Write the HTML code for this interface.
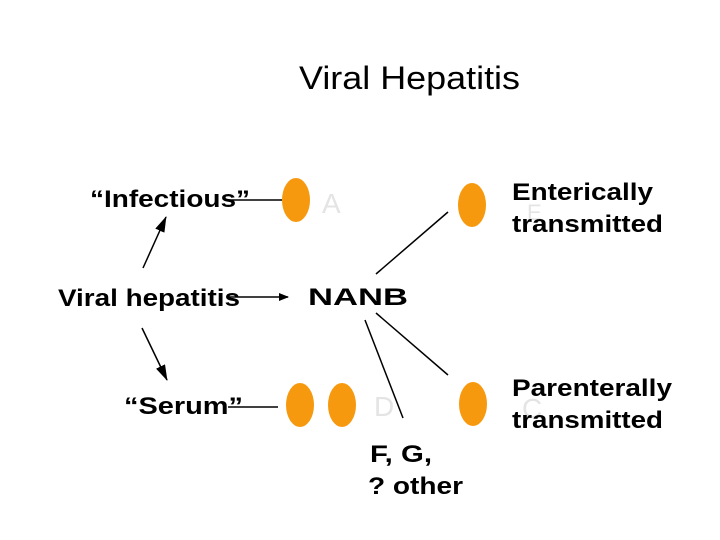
<!DOCTYPE html>
<html><head><style>
body{margin:0;background:#fff;}
svg{display:block;}
text{font-family:"Liberation Sans",Arial,sans-serif;}
.b{font-weight:bold;font-size:24px;fill:#000;}
.g{font-size:28px;fill:#e4e4e4;}
</style></head><body>
<svg width="720" height="540" viewBox="0 0 720 540" xmlns="http://www.w3.org/2000/svg">
<defs>
<marker id="ar" markerWidth="10" markerHeight="8" refX="9" refY="4" orient="auto" markerUnits="userSpaceOnUse">
<path d="M0,0 L10,4 L0,8 z" fill="#000"/>
</marker>
<marker id="ar2" markerWidth="16" markerHeight="10" refX="15" refY="5" orient="auto" markerUnits="userSpaceOnUse">
<path d="M0,0 L16,5 L0,10 z" fill="#000"/>
</marker>
</defs>
<text x="299" y="89" font-size="32" fill="#000" textLength="221" lengthAdjust="spacingAndGlyphs">Viral Hepatitis</text>

<text class="g" x="322" y="213">A</text>
<text class="g" x="374" y="416">D</text>
<text class="g" x="527" y="220" style="font-size:22px">E</text>
<text class="g" x="522" y="418">C</text>

<text class="b" x="90" y="207" textLength="160" lengthAdjust="spacingAndGlyphs">“Infectious”</text>
<text class="b" x="58" y="306" textLength="182" lengthAdjust="spacingAndGlyphs">Viral hepatitis</text>
<text class="b" x="308" y="305" textLength="100" lengthAdjust="spacingAndGlyphs">NANB</text>
<text class="b" x="124" y="414" textLength="119" lengthAdjust="spacingAndGlyphs">“Serum”</text>
<text class="b" x="512" y="200" textLength="141" lengthAdjust="spacingAndGlyphs">Enterically</text>
<text class="b" x="512" y="232" textLength="151" lengthAdjust="spacingAndGlyphs">transmitted</text>
<text class="b" x="512" y="396" textLength="160" lengthAdjust="spacingAndGlyphs">Parenterally</text>
<text class="b" x="512" y="428" textLength="151" lengthAdjust="spacingAndGlyphs">transmitted</text>
<text class="b" x="370" y="462" textLength="62" lengthAdjust="spacingAndGlyphs">F, G,</text>
<text class="b" x="368" y="494" textLength="95" lengthAdjust="spacingAndGlyphs">? other</text>

<g stroke="#000" stroke-width="1.5" fill="none">
<line x1="228" y1="200" x2="282" y2="200"/>
<line x1="228" y1="407" x2="278" y2="407"/>
<line x1="228" y1="297" x2="288" y2="297" marker-end="url(#ar)"/>
<line x1="143" y1="268" x2="166" y2="217" marker-end="url(#ar2)"/>
<line x1="142" y1="328" x2="167" y2="380" marker-end="url(#ar2)"/>
<line x1="376" y1="274" x2="448" y2="212"/>
<line x1="376" y1="313" x2="448" y2="375"/>
<line x1="365" y1="320" x2="403" y2="418"/>
</g>

<g fill="#f7990f">
<ellipse cx="296" cy="200" rx="14" ry="22"/>
<ellipse cx="300" cy="405" rx="14" ry="22"/>
<ellipse cx="342" cy="405" rx="14" ry="22"/>
<ellipse cx="472" cy="205" rx="14" ry="22"/>
<ellipse cx="473" cy="404" rx="14" ry="22"/>
</g>
</svg>
</body></html>
